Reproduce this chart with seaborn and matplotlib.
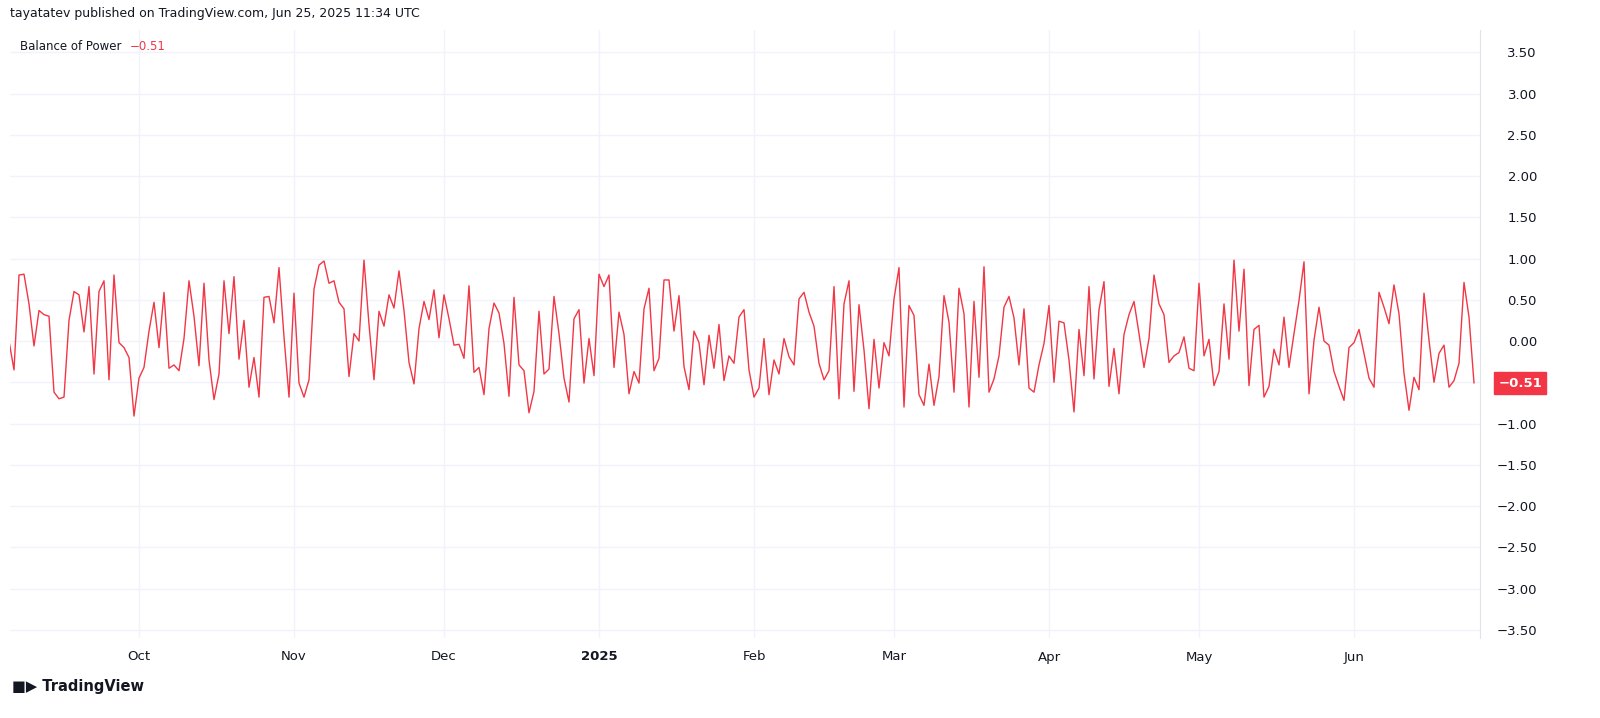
import pandas as pd
import numpy as np
import matplotlib
matplotlib.use("Agg")
import matplotlib.pyplot as plt
import matplotlib.dates as mdates
import seaborn as sns

sns.set_style("white")
plt.rcParams["font.family"] = ["DejaVu Sans"]

# daily Balance of Power values, Sep 5 2024 -> Jun 25 2025
bop = [
    0.00, -0.35, 0.80, 0.81, 0.45, -0.06, 0.37, 0.32, 0.30, -0.62,
    -0.70, -0.68, 0.25, 0.60, 0.56, 0.11, 0.66, -0.40, 0.60, 0.73,
    -0.47, 0.80, -0.02, -0.08, -0.20, -0.91, -0.45, -0.32, 0.12, 0.47,
    -0.08, 0.59, -0.33, -0.29, -0.36, 0.03, 0.73, 0.30, -0.30, 0.70,
    -0.23, -0.71, -0.40, 0.73, 0.09, 0.78, -0.22, 0.25, -0.56, -0.20,
    -0.68, 0.53, 0.54, 0.22, 0.89, 0.05, -0.68, 0.58, -0.51, -0.68,
    -0.47, 0.63, 0.92, 0.97, 0.70, 0.73, 0.47, 0.39, -0.43, 0.09,
    0.00, 0.98, 0.20, -0.47, 0.36, 0.18, 0.56, 0.40, 0.85, 0.37,
    -0.26, -0.52, 0.15, 0.48, 0.26, 0.62, 0.04, 0.56, 0.27, -0.05,
    -0.04, -0.21, 0.67, -0.38, -0.32, -0.65, 0.15, 0.46, 0.34, -0.03,
    -0.67, 0.53, -0.29, -0.36, -0.87, -0.61, 0.36, -0.40, -0.34, 0.54,
    0.09, -0.45, -0.74, 0.27, 0.38, -0.51, 0.03, -0.42, 0.81, 0.66,
    0.80, -0.32, 0.35, 0.08, -0.64, -0.37, -0.51, 0.39, 0.64, -0.36,
    -0.21, 0.74, 0.74, 0.12, 0.55, -0.31, -0.59, 0.12, -0.02, -0.53,
    0.07, -0.33, 0.20, -0.48, -0.18, -0.27, 0.29, 0.38, -0.35, -0.68,
    -0.57, 0.03, -0.65, -0.23, -0.40, 0.03, -0.19, -0.29, 0.51, 0.59,
    0.35, 0.18, -0.27, -0.47, -0.36, 0.66, -0.70, 0.45, 0.73, -0.61,
    0.44, -0.11, -0.82, 0.02, -0.57, -0.02, -0.18, 0.51, 0.89, -0.80,
    0.43, 0.31, -0.65, -0.78, -0.28, -0.78, -0.43, 0.55, 0.23, -0.62,
    0.64, 0.33, -0.80, 0.48, -0.44, 0.90, -0.62, -0.46, -0.18, 0.41,
    0.54, 0.28, -0.29, 0.39, -0.57, -0.62, -0.29, -0.03, 0.43, -0.50,
    0.24, 0.22, -0.23, -0.86, 0.14, -0.42, 0.66, -0.46, 0.38, 0.72,
    -0.55, -0.09, -0.64, 0.08, 0.32, 0.48, 0.09, -0.32, 0.03, 0.80,
    0.45, 0.32, -0.26, -0.18, -0.14, 0.05, -0.33, -0.36, 0.70, -0.18,
    0.02, -0.54, -0.37, 0.45, -0.22, 0.98, 0.12, 0.87, -0.54, 0.14,
    0.19, -0.68, -0.55, -0.10, -0.29, 0.29, -0.32, 0.09, 0.49, 0.96,
    -0.64, 0.01, 0.41, 0.00, -0.05, -0.37, -0.55, -0.72, -0.08, -0.02,
    0.14, -0.15, -0.45, -0.56, 0.59, 0.41, 0.21, 0.68, 0.33, -0.39,
    -0.84, -0.44, -0.59, 0.58, 0.01, -0.50, -0.15, -0.05, -0.56, -0.48,
    -0.27, 0.71, 0.29, -0.51,
]
dates = pd.date_range("2024-09-05", periods=len(bop), freq="D")
df = pd.DataFrame({"date": dates, "bop": bop})

month_ticks = ["2024-10-01", "2024-11-01", "2024-12-01", "2025-01-01", "2025-02-01",
               "2025-03-01", "2025-04-01", "2025-05-01", "2025-06-01"]
month_labels = ["Oct", "Nov", "Dec", "2025", "Feb", "Mar", "Apr", "May", "Jun"]
y_ticks = [3.5, 3.0, 2.5, 2.0, 1.5, 1.0, 0.5, 0.0, -0.5, -1.0, -1.5, -2.0, -2.5, -3.0, -3.5]

RED = "#f23645"
TXT = "#131722"
W, H = 1600, 718
fig = plt.figure(figsize=(16, 7.18), dpi=100)
ax = fig.add_axes([10 / W, 1 - 638 / H, 1470 / W, 608 / H])

sns.lineplot(data=df, x="date", y="bop", color=RED, linewidth=1, ax=ax)

oct1 = pd.Timestamp("2024-10-01")
ax.set_xlim(oct1 - pd.Timedelta(days=25.8), oct1 + pd.Timedelta(days=268.2))
ax.set_ylim(-3.60, 3.77)

ax.set_xticks(pd.to_datetime(month_ticks))
ax.set_xticklabels(month_labels)
for lab in ax.get_xticklabels():
    if lab.get_text() == "2025":
        lab.set_fontweight("bold")
ax.tick_params(axis="x", length=0, pad=9, labelsize=9.5, colors=TXT)

ax.yaxis.tick_right()
ax.set_yticks(y_ticks)
# the -0.50 label sits under the last-value badge, so it is left blank
ax.set_yticklabels(["" if v == -0.5 else f"{v:.2f}".replace("-", "\u2212") for v in y_ticks])
for lab in ax.get_yticklabels():
    lab.set_horizontalalignment("right")
ax.tick_params(axis="y", length=0, pad=41, labelsize=9.5, colors=TXT)

ax.grid(True, color="#f0f3fa", linewidth=1)
ax.set_xlabel("")
ax.set_ylabel("")
for side in ["top", "left", "bottom"]:
    ax.spines[side].set_visible(False)
ax.spines["right"].set_color("#e0e3eb")

fig.text(10 / W, 1 - 14 / H, "tayatatev published on TradingView.com, Jun 25, 2025 11:34 UTC",
         fontsize=9, color=TXT, va="center")
fig.text(20 / W, 1 - 46 / H, "Balance of Power", fontsize=8.5, color=TXT, va="center")
fig.text(130 / W, 1 - 46 / H, "\u22120.51", fontsize=8.5, color=RED, va="center")

# last value badge
fig.text(1520 / W, 1 - 383 / H, "\u22120.51", fontsize=9.5, color="white", fontweight="bold",
         va="center", ha="center",
         bbox=dict(boxstyle="square,pad=0.35", fc=RED, ec=RED))

fig.text(12 / W, 1 - 686 / H, "\u25a0\u25b6 TradingView", fontsize=10.5, color=TXT,
         fontweight="bold", va="center")

fig.savefig("out.png", dpi=100)
